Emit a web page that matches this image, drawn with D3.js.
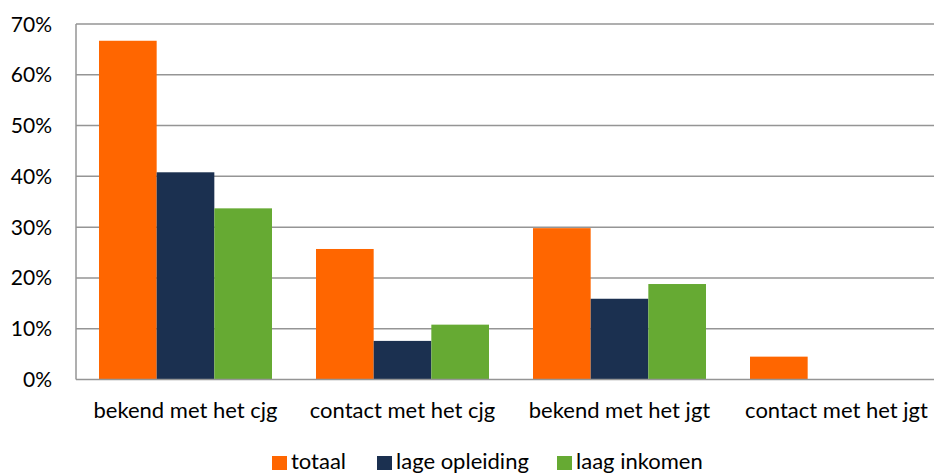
<!DOCTYPE html>
<html><head><meta charset="utf-8">
<script src="https://cdn.jsdelivr.net/npm/d3@7"></script>
<style>body{margin:0;background:#fff}svg{display:block}text{font-family:Lato,"Open Sans",sans-serif;fill:#000}</style>
</head><body><svg id="c" width="934" height="475"></svg>
<script>
const categories = ["bekend met het cjg","contact met het cjg","bekend met het jgt","contact met het jgt"];
const seriesNames = ["totaal","lage opleiding","laag inkomen"];
const totaal = [66.7, 25.7, 29.8, 4.5];
const lageOpleiding = [40.8, 7.6, 15.9, 0];
const laagInkomen = [33.7, 10.8, 18.8, 0];
const colors = ["#FF6600","#1B3050","#66AA33"];
const yTicks = [0,10,20,30,40,50,60,70];

(function(){
const series = [totaal, lageOpleiding, laagInkomen];
const svg = d3.select("#c");
const mLeft = 76, mRight = 944, mTop = 24, mBottom = 379.5;
const x0 = d3.scaleBand().domain(categories).range([mLeft, mRight]).paddingInner(0).paddingOuter(0);
const x1 = d3.scaleBand().domain(seriesNames).range([23, 23+173]).padding(0);
const y = d3.scaleLinear().domain([0,70]).range([mBottom, mTop]);

svg.append("g").selectAll("line").data(yTicks.filter(d=>d>0)).join("line")
  .attr("x1", mLeft).attr("x2", 934).attr("y1", d=>y(d)).attr("y2", d=>y(d))
  .attr("stroke", "#959595").attr("stroke-width", 1.5);

svg.append("g").selectAll("text").data(yTicks).join("text")
  .attr("x", 52).attr("y", d=>y(d)).attr("dy","0.36em").attr("text-anchor","end")
  .attr("font-size", 21).text(d=>d+"%");

const g = svg.append("g");
categories.forEach((c,i)=>{
  seriesNames.forEach((s,j)=>{
    const v = series[j][i];
    if (v<=0) return;
    g.append("rect").attr("x", x0(c)+x1(s)).attr("width", x1.bandwidth())
      .attr("y", y(v)).attr("height", y(0)-y(v)).attr("fill", colors[j]);
  });
});

svg.append("line").attr("x1", mLeft).attr("x2", mLeft).attr("y1", mTop).attr("y2", mBottom)
  .attr("stroke","#959595").attr("stroke-width",1.5);
svg.append("line").attr("x1", mLeft).attr("x2", 934).attr("y1", mBottom).attr("y2", mBottom)
  .attr("stroke","#959595").attr("stroke-width",1.5);

svg.append("g").selectAll("text").data(categories).join("text")
  .attr("x", d=>x0(d)+23+173/2).attr("y", 418).attr("text-anchor","middle")
  .attr("font-size", 22).text(d=>d);

const legX = [272, 377, 557];
const lg = svg.append("g");
seriesNames.forEach((s,j)=>{
  lg.append("rect").attr("x", legX[j]).attr("y", 456).attr("width", 15).attr("height", 14).attr("fill", colors[j]);
  lg.append("text").attr("x", legX[j]+19).attr("y", 469).attr("font-size", 22).text(s);
});
})();
</script></body></html>
